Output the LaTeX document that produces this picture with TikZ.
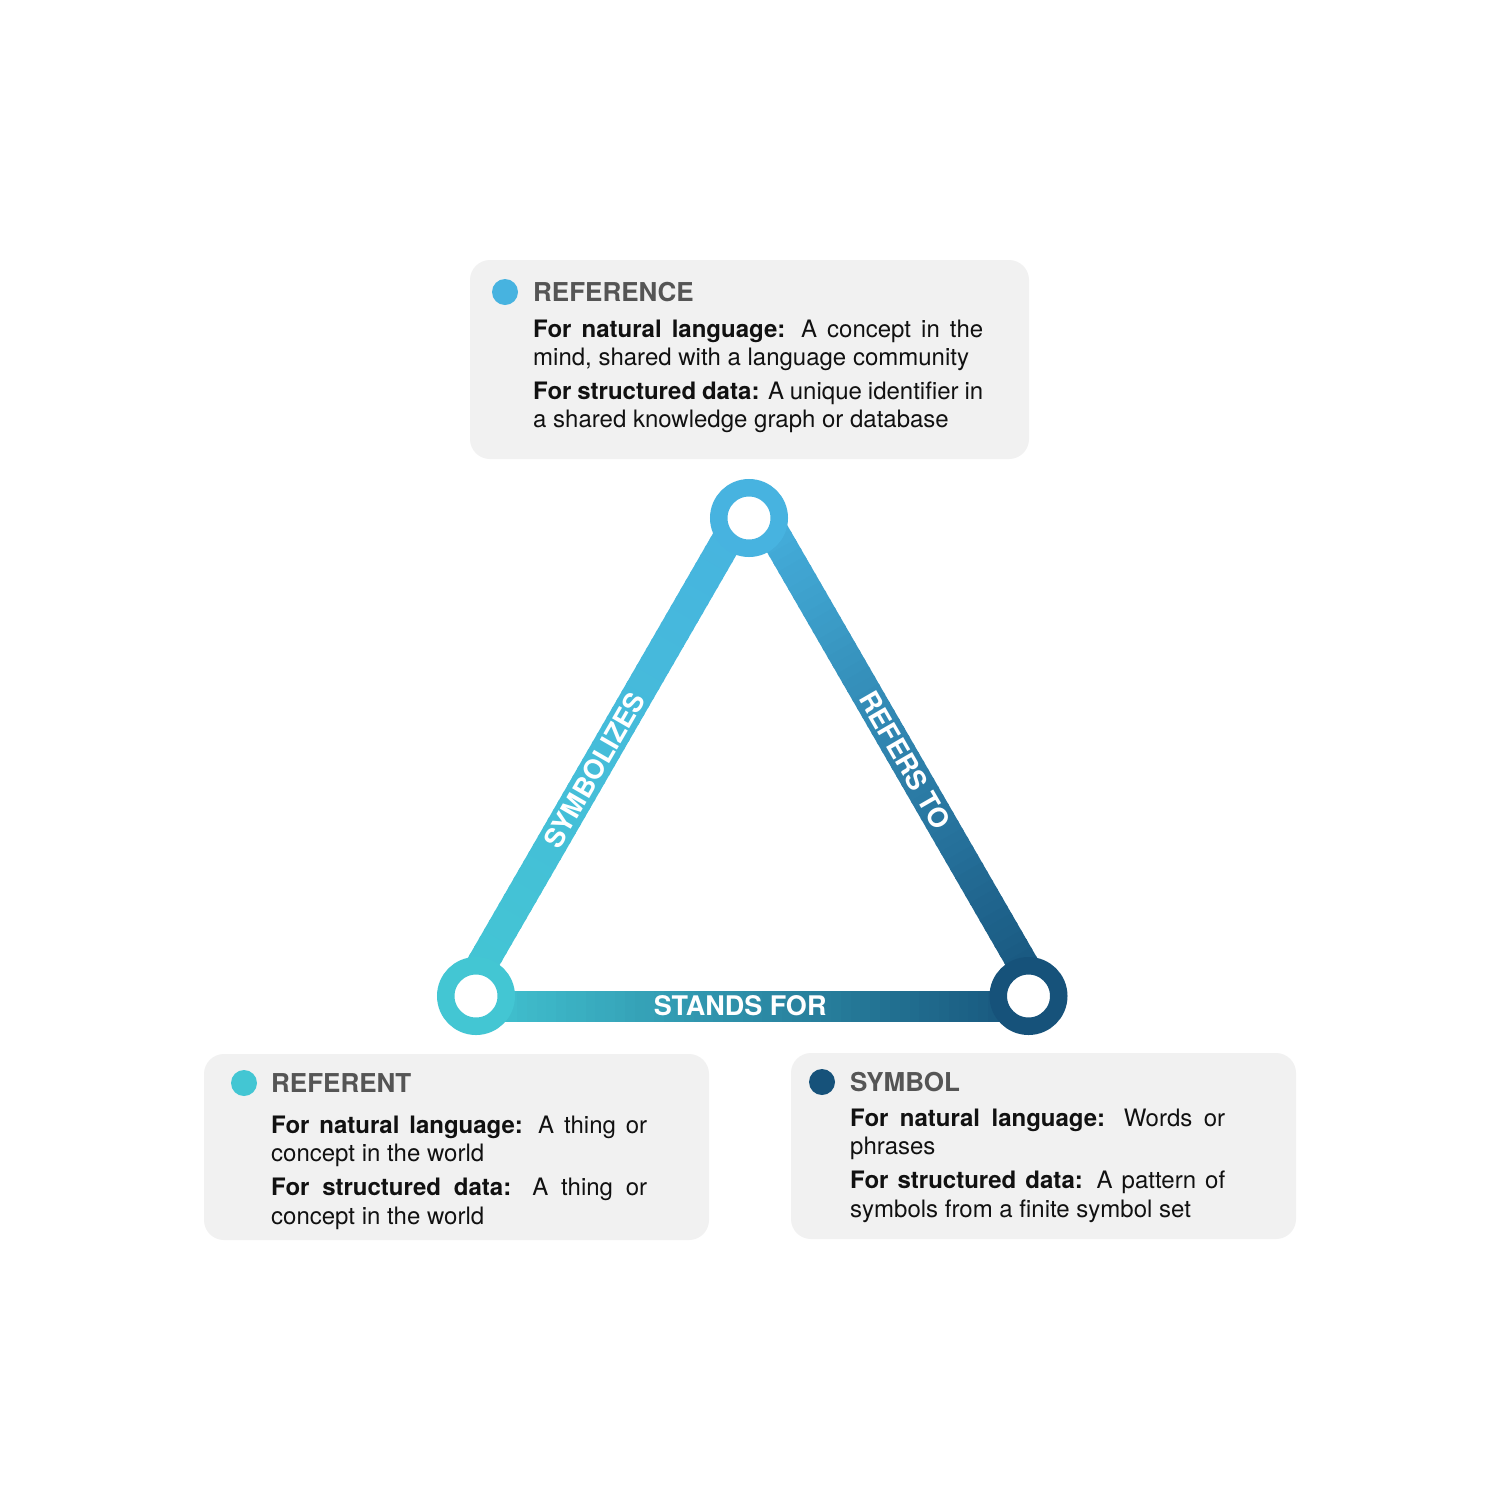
\documentclass[tikz,border=0pt]{standalone}
\usepackage{fontspec}
\setmainfont{TeX Gyre Heros}
\usetikzlibrary{calc}
\definecolor{boxgray}{HTML}{F1F1F1}
\definecolor{headgray}{HTML}{555555}
\definecolor{cRef}{HTML}{47B3E0}
\definecolor{cTeal}{HTML}{43C6D3}
\definecolor{cDark}{HTML}{16527A}
\definecolor{bodyblack}{HTML}{111111}
\newcommand{\gradline}[4]{%
  \foreach \k in {0,...,59}{%
    \pgfmathtruncatemacro{\pp}{round(100*\k/59)}%
    \pgfmathsetmacro{\ta}{\k/60}%
    \pgfmathsetmacro{\tb}{min(1,(\k+1.3)/60)}%
    \draw[line width=31pt, draw=#4!\pp!#3] ($(#1)!\ta!(#2)$) -- ($(#1)!\tb!(#2)$);
  }}
\begin{document}
\begin{tikzpicture}[x=1pt,y=-1pt,
  infobox/.style={fill=boxgray, rounded corners=20pt, inner sep=0pt, outer sep=0pt, anchor=north west},
  dotmark/.style={circle, inner sep=0pt, minimum size=26pt},
  heading/.style={anchor=base west, inner sep=0pt, font=\fontsize{26}{30}\selectfont\bfseries, text=headgray},
  bodytext/.style={anchor=base west, inner sep=0pt, align=left, font=\fontsize{24}{28.5}\selectfont, text=bodyblack},
  ring/.style={circle, draw=#1, fill=white, line width=17.5pt, minimum size=60.5pt, inner sep=0pt},
  edgelabel/.style={sloped, inner sep=0pt, text=white, font=\fontsize{27}{27}\selectfont\bfseries},
]
\useasboundingbox (0,0) rectangle (1500,1500);
\fill[white] (0,0) rectangle (1500,1500);

% info boxes
\node[infobox, minimum width=559pt, minimum height=199pt] (refbox) at (470,260) {};
\node[infobox, minimum width=505pt, minimum height=186pt] (rfbox) at (204,1054) {};
\node[infobox, minimum width=505pt, minimum height=186pt] (symbox) at (791,1053) {};

% triangle vertices
\coordinate (tA) at (752.5,496);
\coordinate (tB) at (458,1006);
\coordinate (tC) at (1047,1006);

% gradient edges
\gradline{tB}{tA}{cTeal}{cRef}
\gradline{tA}{tC}{cRef}{cDark}
\gradline{tB}{tC}{cTeal}{cDark}

% rings
\node[ring=cRef] (reference) at (749,518) {};
\node[ring=cTeal] (referent) at (476,996) {};
\node[ring=cDark] (symbol) at (1028.5,996) {};

% edge labels
\path (tB) -- (tA) node[edgelabel, pos=0.463] (lblsym) {SYMBOLIZES};
\path (tA) -- (tC) node[edgelabel, pos=0.518] (lblref) {REFERS TO};
\path (tB) -- (tC) node[edgelabel, pos=0.479] (lblstand) {STANDS FOR};

% REFERENCE box text (anchor = baseline of last line)
\node[dotmark, fill=cRef] (refdot) at (505,292) {};
\node[heading] (refhead) at (533,301) {REFERENCE};
\node[bodytext] (reftext) at (533,427.5) {\makebox[450pt][s]{\textbf{For natural language:} A concept in the}\\ mind, shared with a language community\\[5pt] \makebox[450pt][s]{\textbf{For structured data:} A unique identifier in}\\ a shared knowledge graph or database};

% REFERENT box text
\node[dotmark, fill=cTeal] (rfdot) at (244,1083) {};
\node[heading] (rfhead) at (271,1092) {REFERENT};
\node[bodytext] (rftext) at (271,1224) {\makebox[376pt][s]{\textbf{For natural language:} A thing or}\\ concept in the world\\[5.5pt] \makebox[376pt][s]{\textbf{For structured data:} A thing or}\\ concept in the world};

% SYMBOL box text
\node[dotmark, fill=cDark] (symdot) at (822,1082) {};
\node[heading] (symhead) at (850,1091) {SYMBOL};
\node[bodytext] (symtext) at (850,1217) {\makebox[375pt][s]{\textbf{For natural language:} Words or}\\ phrases\\[5.5pt] \makebox[375pt][s]{\textbf{For structured data:} A pattern of}\\ symbols from a finite symbol set};
\end{tikzpicture}
\end{document}
